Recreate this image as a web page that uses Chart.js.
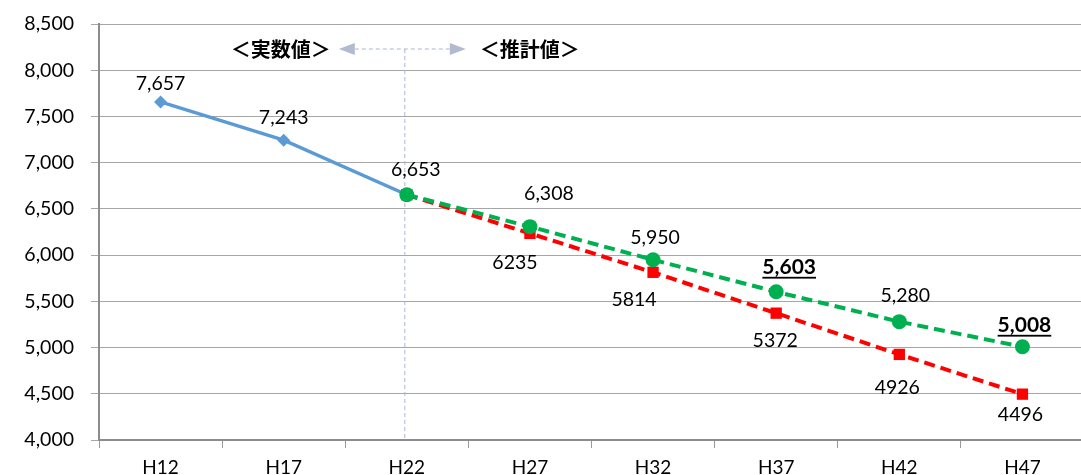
<!DOCTYPE html>
<html>
<head>
<meta charset="utf-8">
<style>
  html, body { margin: 0; padding: 0; background: #fff; overflow: hidden; }
  #wrap { width: 1092px; height: 475px; }
</style>
<script src="https://cdn.jsdelivr.net/npm/chart.js@4/dist/chart.umd.min.js"></script>
</head>
<body>
<div id="wrap"><canvas id="c" width="1092" height="475"></canvas></div>
<script>
// Years (Heisei) along the x axis
const years = ['H12', 'H17', 'H22', 'H27', 'H32', 'H37', 'H42', 'H47'];
// Recorded population
const actual = [7657, 7243, 6653, null, null, null, null, null];
// Projection (upper case)
const projectionA = [null, null, 6653, 6308, 5950, 5603, 5280, 5008];
// Projection (lower case)
const projectionB = [null, null, 6653, 6235, 5814, 5372, 4926, 4496];
// Value axis
const yMin = 4000, yMax = 8500, yStep = 500;
// Header captions
const leftCaption = '＜実数値＞';
const rightCaption = '＜推計値＞';

const FONT = 'Lato, "Noto Sans", sans-serif';
const JP_FONT = '"Noto Sans CJK JP", sans-serif';

// Value labels next to each point
const valueLabels = {
  id: 'valueLabels',
  afterDatasetsDraw(chart, args, opts) {
    const ctx = chart.ctx;
    ctx.save();
    ctx.textAlign = 'center';
    ctx.textBaseline = 'middle';
    chart.data.datasets.forEach((ds, di) => {
      const cfg = opts.sets[di];
      if (!cfg) return;
      const meta = chart.getDatasetMeta(di);
      meta.data.forEach((pt, i) => {
        const v = ds.data[i];
        if (v == null || cfg.skip.includes(i)) return;
        const off = cfg.offsets[i] || [0, 0];
        const x = pt.x + off[0], y = pt.y + off[1];
        const text = cfg.comma ? v.toLocaleString('en-US') : String(v);
        const strong = cfg.emphasis && cfg.emphasis.includes(i);
        ctx.font = (strong ? 'bold 21px ' : '19.5px ') + FONT;
        ctx.fillStyle = '#000';
        ctx.fillText(text, x, y);
        if (strong) {
          const w = ctx.measureText(text).width;
          ctx.fillRect(x - w / 2, y + 10, w, 1.8);
        }
      });
    });
    ctx.restore();
  }
};

// Divider between recorded and projected values, with captions
const divider = {
  id: 'divider',
  beforeDatasetsDraw(chart) {
    const ctx = chart.ctx;
    const area = chart.chartArea;
    const x = chart.scales.x.getPixelForValue(2) - 2;
    const y = area.top + 25;
    ctx.save();
    ctx.strokeStyle = '#aab6cf';
    ctx.lineWidth = 1;
    ctx.setLineDash([4, 3]);
    ctx.beginPath();
    ctx.moveTo(x, y);
    ctx.lineTo(x, area.bottom);
    ctx.moveTo(x - 50, y);
    ctx.lineTo(x + 45, y);
    ctx.stroke();
    ctx.setLineDash([]);
    ctx.fillStyle = '#b0bbd0';
    ctx.beginPath();
    ctx.moveTo(x - 66, y);
    ctx.lineTo(x - 50, y - 6);
    ctx.lineTo(x - 50, y + 6);
    ctx.closePath();
    ctx.fill();
    ctx.beginPath();
    ctx.moveTo(x + 61, y);
    ctx.lineTo(x + 45, y - 6);
    ctx.lineTo(x + 45, y + 6);
    ctx.closePath();
    ctx.fill();
    ctx.font = 'bold 20px ' + JP_FONT;
    ctx.fillStyle = '#000';
    ctx.textAlign = 'center';
    ctx.textBaseline = 'middle';
    ctx.fillText(leftCaption, x - 124, y);
    ctx.fillText(rightCaption, x + 125, y);
    ctx.restore();
  }
};

new Chart(document.getElementById('c'), {
  type: 'line',
  data: {
    labels: years,
    datasets: [
      {
        label: 'projectionA',
        data: projectionA,
        borderColor: '#00b050',
        backgroundColor: '#00b050',
        borderWidth: 4,
        borderDash: [11, 6],
        pointStyle: 'circle',
        pointRadius: 7.5,
        pointBorderWidth: 0,
        order: 1
      },
      {
        label: 'projectionB',
        data: projectionB,
        borderColor: '#ff0000',
        backgroundColor: '#ff0000',
        borderWidth: 4,
        borderDash: [11, 6],
        pointStyle: 'rect',
        pointRadius: 8,
        pointBorderWidth: 0,
        order: 2
      },
      {
        label: 'actual',
        data: actual,
        borderColor: '#5b9bd5',
        backgroundColor: '#5b9bd5',
        borderWidth: 3.5,
        pointStyle: 'rectRot',
        pointRadius: 6.5,
        pointBorderWidth: 0,
        order: 3
      }
    ]
  },
  options: {
    responsive: false,
    animation: false,
    spanGaps: false,
    layout: { padding: { top: 24, right: 0, left: 0, bottom: 0 } },
    plugins: {
      legend: { display: false },
      tooltip: { enabled: false },
      valueLabels: {
        sets: [
          { comma: true, skip: [2], emphasis: [5, 7],
            offsets: { 3: [19, -33], 4: [2, -22], 5: [13, -25], 6: [6, -26], 7: [2, -22] } },
          { comma: false, skip: [2],
            offsets: { 3: [-15, 29], 4: [-19, 27], 5: [-1, 28], 6: [-2, 33], 7: [-2, 21] } },
          { comma: true, skip: [],
            offsets: { 0: [0, -18], 1: [0, -22], 2: [9, -25] } }
        ]
      }
    },
    scales: {
      x: {
        offset: true,
        grid: {
          offset: true,
          drawOnChartArea: false,
          drawTicks: true,
          tickLength: 8,
          color: '#999'
        },
        border: { display: true, color: '#8c8c8c', width: 2 },
        ticks: { color: '#000', font: { family: FONT, size: 19 }, padding: 8, maxRotation: 0 },
        afterFit(scale) { scale.height = 35; scale.paddingLeft = 0; scale.paddingRight = 0; }
      },
      y: {
        min: yMin,
        max: yMax,
        grid: { color: '#a6a6a6', lineWidth: 1, tickLength: 8 },
        border: { display: true, color: '#8c8c8c', width: 2 },
        ticks: {
          stepSize: yStep,
          color: '#000',
          font: { family: FONT, size: 19.5 },
          padding: 17,
          callback: v => v.toLocaleString('en-US')
        },
        afterFit(scale) { scale.width = 99; scale.paddingTop = 0; scale.paddingBottom = 0; }
      }
    }
  },
  plugins: [divider, valueLabels]
});
</script>
</body>
</html>
